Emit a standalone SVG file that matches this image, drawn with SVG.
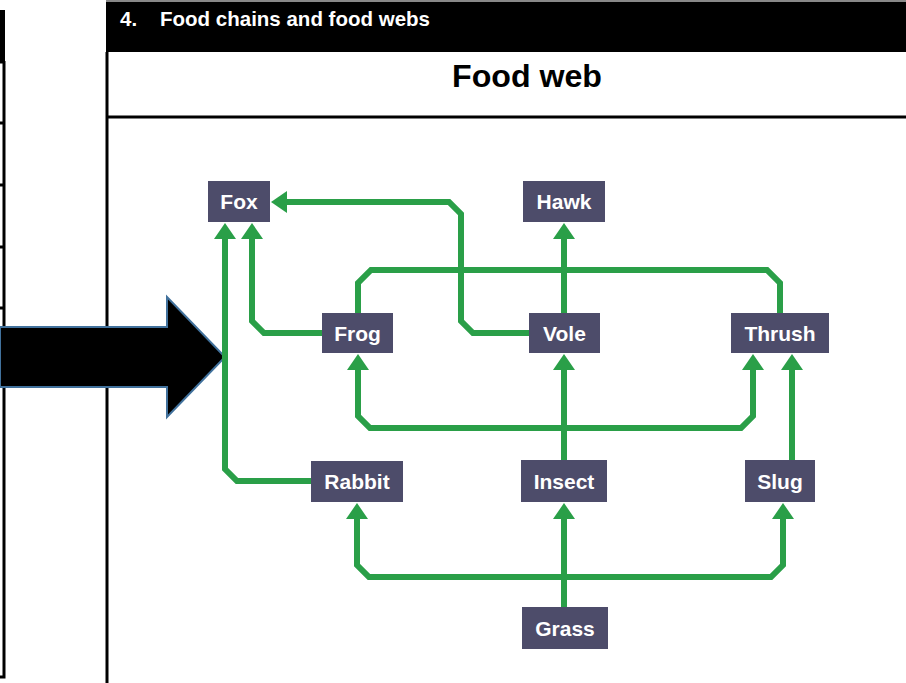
<svg xmlns="http://www.w3.org/2000/svg" width="906" height="683" viewBox="0 0 906 683">
<style>
.node rect{fill:#4d4c6a}
.node text{fill:#ffffff;font-family:"Liberation Sans",Arial,sans-serif;font-weight:bold;font-size:21px;text-anchor:middle}
.c{fill:none;stroke:#2a9f48;stroke-width:6}
.a{marker-end:url(#ah)}
.frame{stroke:#000;stroke-width:3;fill:none}
.hdr{font-family:"Liberation Sans",Arial,sans-serif;font-weight:bold}
</style>
<defs>
<marker id="ah" viewBox="0 0 16 22" refX="1" refY="11" markerWidth="16" markerHeight="22" markerUnits="userSpaceOnUse" orient="auto">
<path d="M0,0 L16,11 L0,22 z" fill="#2a9f48"/>
</marker>
</defs>
<rect width="906" height="683" fill="#ffffff"/>
<g id="frame">
<rect x="0" y="10" width="5" height="51" fill="#000"/>
<path class="frame" d="M4,61 V677 H0"/>
<path class="frame" d="M0,62 H5 M0,123 H5 M0,185 H5 M0,247 H5 M0,308 H5"/>
<rect x="106" y="2" width="800" height="50" fill="#000"/>
<line x1="106" y1="1" x2="906" y2="1" stroke="#888" stroke-width="2"/>
<path class="frame" d="M107,52 V683 M107,117 H906"/>
<text class="hdr" x="120" y="26" font-size="20.5" fill="#fff">4.</text>
<text class="hdr" x="160" y="26" font-size="20.5" fill="#fff" textLength="270" lengthAdjust="spacingAndGlyphs">Food chains and food webs</text>
<text class="hdr" x="452" y="87" font-size="32" fill="#000" textLength="150" lengthAdjust="spacingAndGlyphs">Food web</text>
</g>
<g id="bigarrow">
<path d="M0,327 H167 V297 L225,357 L167,417 V387 H0 z" fill="#000" stroke="#41719c" stroke-width="2"/>
</g>
<g id="connectors">
<path class="c a" d="M311,481 H237 L225,469 V238"/>
<path class="c a" d="M322,333 H264 L252,321 V238"/>
<path class="c a" d="M529,333 H473 L461,321 V214 L449,202 H286"/>
<path class="c" d="M358,313 V283 L371,270 H767 L780,283 V313"/>
<path class="c a" d="M564,460 V369"/>
<path class="c a" d="M564,313 V238"/>
<path class="c a" d="M564,428 H370 L358,416 V369"/>
<path class="c a" d="M564,428 H741 L753,416 V369"/>
<path class="c a" d="M792,460 V369"/>
<path class="c a" d="M564,607 V518"/>
<path class="c a" d="M564,577 H369 L357,565 V518"/>
<path class="c a" d="M564,577 H771 L783,565 V518"/>
</g>
<g id="fox" class="node"><rect x="208" y="181" width="62" height="41"/><text x="239" y="209">Fox</text></g>
<g id="hawk" class="node"><rect x="523" y="181" width="82" height="41"/><text x="564" y="209">Hawk</text></g>
<g id="frog" class="node"><rect x="322" y="313" width="71" height="40"/><text x="357.5" y="341">Frog</text></g>
<g id="vole" class="node"><rect x="529" y="313" width="71" height="40"/><text x="564.5" y="341">Vole</text></g>
<g id="thrush" class="node"><rect x="731" y="313" width="98" height="40"/><text x="780" y="341">Thrush</text></g>
<g id="rabbit" class="node"><rect x="311" y="461" width="92" height="41"/><text x="357" y="489">Rabbit</text></g>
<g id="insect" class="node"><rect x="521" y="460" width="86" height="42"/><text x="564" y="489">Insect</text></g>
<g id="slug" class="node"><rect x="745" y="460" width="70" height="42"/><text x="780" y="489">Slug</text></g>
<g id="grass" class="node"><rect x="522" y="607" width="86" height="42"/><text x="565" y="636">Grass</text></g>
</svg>
